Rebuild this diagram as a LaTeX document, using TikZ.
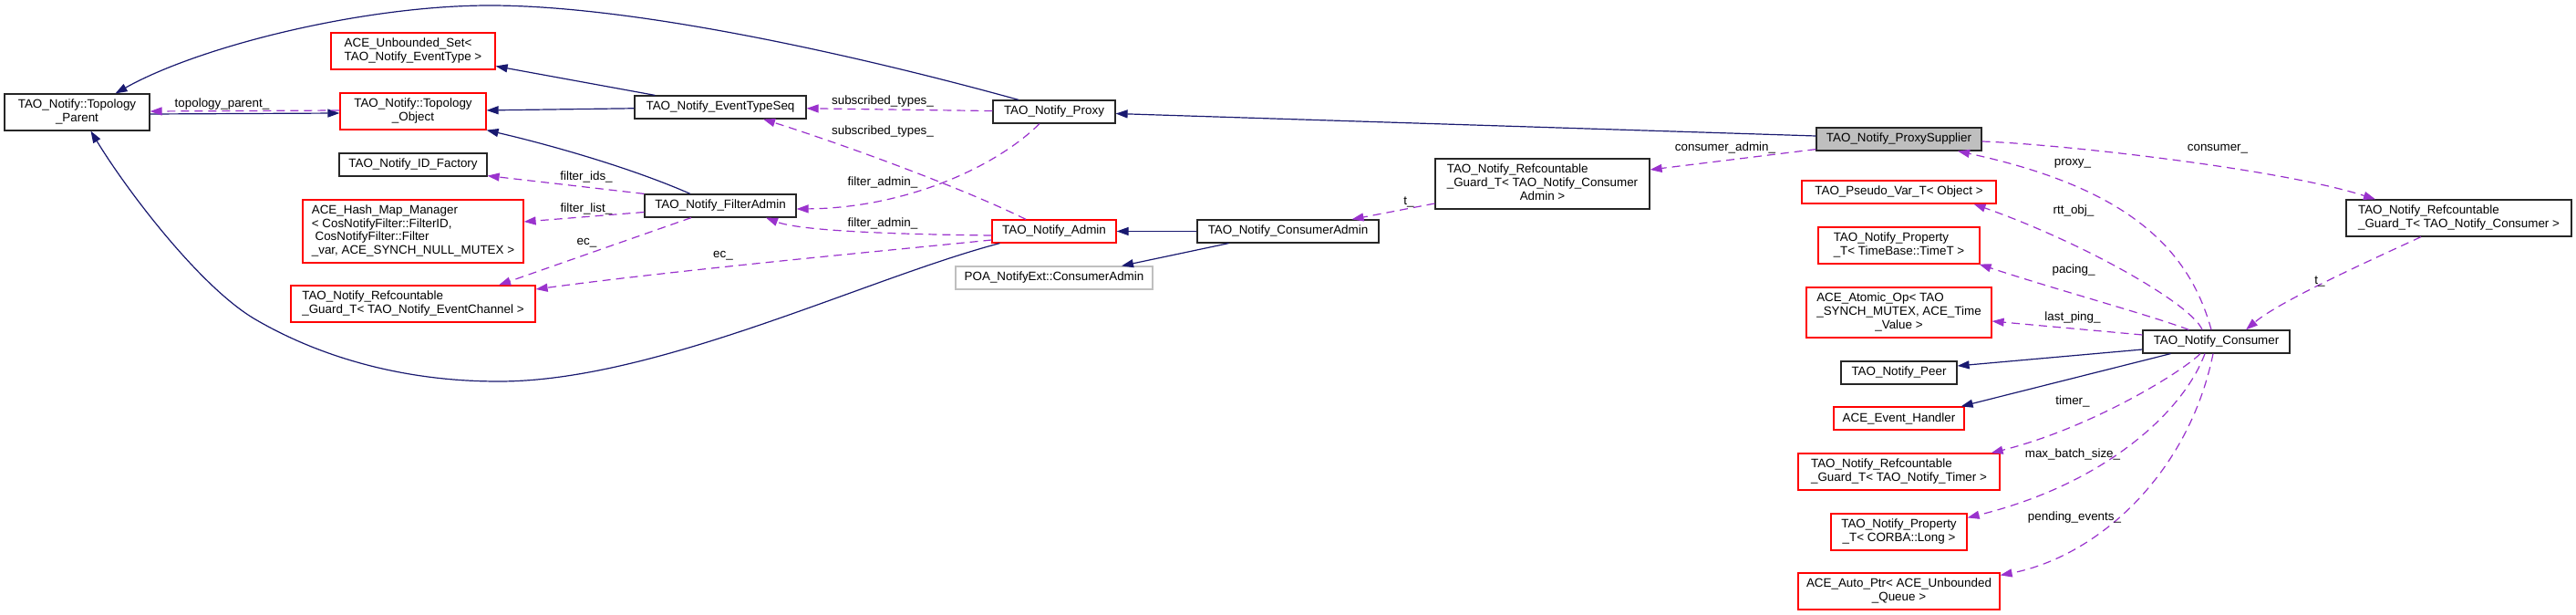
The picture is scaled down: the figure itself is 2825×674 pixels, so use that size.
\documentclass[tikz,border=0pt]{standalone}
\usepackage{fontspec}
\setmainfont{Liberation Sans}
\usetikzlibrary{arrows.meta}
\definecolor{inhc}{HTML}{191970}
\definecolor{usec}{HTML}{9A32CD}
\newcommand{\mlt}[2]{\begin{tabular}{@{}l@{}}#1\\\multicolumn{1}{@{}c@{}}{#2}\end{tabular}}
\tikzset{
  box/.style={draw=black!85, line width=1.2pt, inner sep=0pt, align=center},
  rbox/.style={box, draw=red},
  gbox/.style={box, draw=black!25},
  inh/.style={draw=inhc, line width=1.2pt, -{Triangle[length=13pt,width=9pt]}},
  use/.style={draw=usec, line width=1.2pt, dash pattern=on 9pt off 6pt, -{Triangle[length=13pt,width=9pt]}},
  elab/.style={anchor=base, inner sep=0pt}
}
\begin{document}
\begin{tikzpicture}[x=1pt, y=-1pt, font=\fontsize{13.4}{14.7}\selectfont]
\fill[white] (0,0) rectangle (2825,674);
\useasboundingbox (0,0) rectangle (2825,674);

% nodes
\node[box, minimum width=159pt, minimum height=40pt] (TP) at (84.5,123) {\mlt{TAO\_Notify::Topology}{\_Parent}};
\node[rbox, minimum width=180pt, minimum height=40pt] (US) at (453,56) {\mlt{ACE\_Unbounded\_Set<}{TAO\_Notify\_EventType >}};
\node[rbox, minimum width=160pt, minimum height=40pt] (TO) at (453,122) {\mlt{TAO\_Notify::Topology}{\_Object}};
\node[box, minimum width=162pt, minimum height=25pt] (IDF) at (453,180.5) {TAO\_Notify\_ID\_Factory};
\node[rbox, minimum width=242pt, minimum height=69pt] (HM) at (453,253.5) {\mlt{ACE\_Hash\_Map\_Manager\\< CosNotifyFilter::FilterID,\\\ CosNotifyFilter::Filter}{\_var, ACE\_SYNCH\_NULL\_MUTEX >}};
\node[rbox, minimum width=268pt, minimum height=40pt] (GEC) at (453,333) {\mlt{TAO\_Notify\_Refcountable}{\_Guard\_T< TAO\_Notify\_EventChannel >}};
\node[box, minimum width=188pt, minimum height=25pt] (ETS) at (790,117.5) {TAO\_Notify\_EventTypeSeq};
\node[box, minimum width=166pt, minimum height=25pt] (FA) at (790,225.5) {TAO\_Notify\_FilterAdmin};
\node[box, minimum width=134pt, minimum height=25pt] (PX) at (1156,122.5) {TAO\_Notify\_Proxy};
\node[rbox, minimum width=136pt, minimum height=25pt] (AD) at (1156,253.5) {TAO\_Notify\_Admin};
\node[box, minimum width=199pt, minimum height=25pt] (CA) at (1412.5,253.5) {TAO\_Notify\_ConsumerAdmin};
\node[gbox, minimum width=216pt, minimum height=25pt] (POA) at (1156,304.5) {POA\_NotifyExt::ConsumerAdmin};
\node[box, minimum width=235pt, minimum height=55pt] (GCA) at (1691.5,201.5) {\mlt{TAO\_Notify\_Refcountable\\\_Guard\_T< TAO\_Notify\_Consumer}{Admin >}};
\node[box, fill=black!25, minimum width=181pt, minimum height=25pt] (PS) at (2082.5,152.5) {TAO\_Notify\_ProxySupplier};
\node[rbox, minimum width=213pt, minimum height=25pt] (PV) at (2082.5,210.5) {TAO\_Pseudo\_Var\_T< Object >};
\node[rbox, minimum width=177pt, minimum height=40pt] (PT) at (2082.5,269) {\mlt{TAO\_Notify\_Property}{\_T< TimeBase::TimeT >}};
\node[rbox, minimum width=203pt, minimum height=55pt] (AO) at (2082.5,342.5) {\mlt{ACE\_Atomic\_Op< TAO\\\_SYNCH\_MUTEX, ACE\_Time}{\_Value >}};
\node[box, minimum width=127pt, minimum height=25pt] (PEER) at (2082.5,408.5) {TAO\_Notify\_Peer};
\node[rbox, minimum width=143pt, minimum height=25pt] (EH) at (2082.5,458.5) {ACE\_Event\_Handler};
\node[rbox, minimum width=221pt, minimum height=40pt] (GT) at (2082.5,517) {\mlt{TAO\_Notify\_Refcountable}{\_Guard\_T< TAO\_Notify\_Timer >}};
\node[rbox, minimum width=149pt, minimum height=40pt] (PL) at (2082.5,583) {\mlt{TAO\_Notify\_Property}{\_T< CORBA::Long >}};
\node[rbox, minimum width=221pt, minimum height=40pt] (AP) at (2082.5,648) {\mlt{ACE\_Auto\_Ptr< ACE\_Unbounded}{\_Queue >}};
\node[box, minimum width=247pt, minimum height=40pt] (GC) at (2696.5,239) {\mlt{TAO\_Notify\_Refcountable}{\_Guard\_T< TAO\_Notify\_Consumer >}};
\node[box, minimum width=161pt, minimum height=25pt] (CO) at (2430.5,374.5) {TAO\_Notify\_Consumer};

% inheritance edges
\draw[inh] ([xshift=-39pt]PX.north) .. controls (1000,77) and (720,6) .. (537,6) .. controls (400,6) and (220,50) .. ([xshift=42pt]TP.north);
\draw[inh] (ETS) -- (US);
\draw[inh] (ETS) -- (TO);
\draw[inh] ([xshift=-33pt]FA.north) .. controls (690,183) and (600,158) .. (TO.south east);
\draw[inh] ([yshift=-2pt]TP.east) -- ([yshift=-2pt]TO.west);
\draw[inh] ([xshift=9pt]AD.south west) .. controls (950,305) and (720,418) .. (547,418) .. controls (430,418) and (340,385) .. (280,350) .. controls (220,315) and (140,210) .. ([xshift=15pt]TP.south);
\draw[inh] (CA) -- (AD);
\draw[inh] ([xshift=-65pt]CA.south) -- ([xshift=74pt]POA.north);
\draw[inh] ([yshift=3.5pt]PS.west) -- ([yshift=-2pt]PX.east);
\draw[inh] ([yshift=-8.5pt]CO.west) -- ([yshift=7.5pt]PEER.east);
\draw[inh] ([xshift=-50pt]CO.south) -- ([xshift=-4pt]EH.north east);

% usage edges
\draw[use] ([yshift=1pt]TO.west) -- ([yshift=1pt]TP.east);
\node[elab] (l1) at (243.5,118) {topology\_parent\_};
\draw[use] (PX) -- (ETS);
\node[elab] (l2) at (968,115) {subscribed\_types\_};
\draw[use] ([xshift=-31pt]AD.north) .. controls (1060,208) and (930,160) .. ([xshift=47pt]ETS.south);
\node[elab] (l3) at (968,148) {subscribed\_types\_};
\draw[use] ([xshift=-16pt]PX.south) .. controls (1090,185) and (990,228) .. ([yshift=-3.5pt]FA.east);
\node[elab] (l4) at (968,203) {filter\_admin\_};
\draw[use] ([yshift=-4.5pt]AD.west) .. controls (1000,257) and (880,254) .. ([xshift=50pt]FA.south);
\node[elab] (l5) at (968,248) {filter\_admin\_};
\draw[use] (FA.north west) -- ([yshift=1pt]IDF.south east);
\node[elab] (l6) at (643,197) {filter\_ids\_};
\draw[use] ([yshift=-7pt]FA.west) -- ([yshift=10.5pt]HM.east);
\node[elab] (l7) at (643,232) {filter\_list\_};
\draw[use] ([xshift=-32pt]FA.south) -- ([xshift=94pt]GEC.north);
\node[elab] (l8) at (643.5,268) {ec\_};
\draw[use] ([yshift=-9.5pt]AD.west) .. controls (1000,272) and (750,295) .. ([yshift=16pt]GEC.east);
\node[elab] (l9) at (793,282) {ec\_};
\draw[use] ([yshift=2pt]PS.south west) -- ([yshift=15.5pt]GCA.east);
\node[elab] (l10) at (1892,166) {consumer\_admin\_};
\draw[use] ([yshift=-21.5pt]GCA.west) -- ([xshift=70pt]CA.north);
\node[elab] (l11) at (1545,224) {t\_};

\draw[use] ([xshift=-5.5pt]CO.north) .. controls (2400,270) and (2330,205) .. ([xshift=64.5pt]PS.south);
\node[elab] (l12) at (2273,182) {proxy\_};
\draw[use] ([xshift=-15.5pt]CO.north) .. controls (2405,335) and (2290,268) .. ([xshift=82pt]PV.south);
\node[elab] (l13) at (2274,234) {rtt\_obj\_};
\draw[use] ([xshift=-30pt]CO.north) .. controls (2360,346) and (2250,316) .. ([xshift=-1pt]PT.south east);
\node[elab] (l14) at (2274,299) {pacing\_};
\draw[use] ([yshift=7.5pt]CO.west) -- ([yshift=-9.5pt]AO.east);
\node[elab] (l15) at (2273,351) {last\_ping\_};
\draw[use] ([xshift=-17.5pt]CO.south) .. controls (2390,410) and (2290,470) .. ([xshift=-10pt]GT.north east);
\node[elab] (l16) at (2273,443) {timer\_};
\draw[use] ([xshift=-12.5pt]CO.south) .. controls (2395,450) and (2310,530) .. ([yshift=-5pt]PL.north east);
\node[elab] (l17) at (2273,501) {max\_batch\_size\_};
\draw[use] ([xshift=-3.5pt]CO.south) .. controls (2400,520) and (2300,610) .. ([yshift=-3pt]AP.north east);
\node[elab] (l18) at (2275,570) {pending\_events\_};
\draw[use] ([yshift=-2.5pt]PS.east) .. controls (2260,158) and (2500,185) .. ([xshift=-91.5pt]GC.north);
\node[elab] (l19) at (2432,166) {consumer\_};
\draw[use] ([xshift=-41.5pt]GC.south) .. controls (2600,285) and (2500,330) .. ([xshift=32.5pt]CO.north);
\node[elab] (l20) at (2544,311) {t\_};
\end{tikzpicture}
\end{document}
